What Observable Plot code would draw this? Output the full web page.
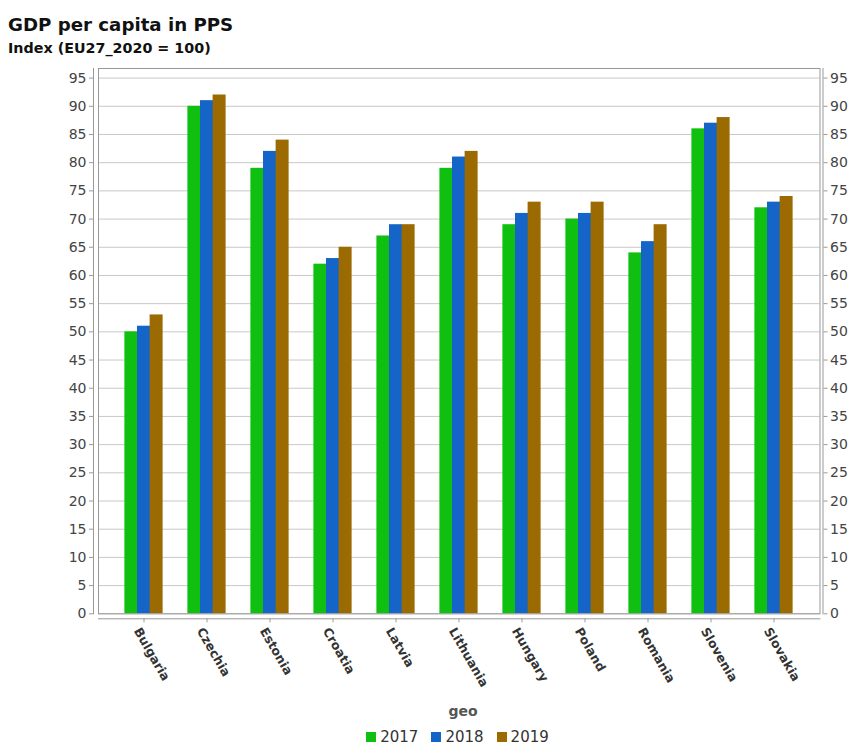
<!DOCTYPE html>
<html><head><meta charset="utf-8">
<script src="https://cdn.jsdelivr.net/npm/d3@7"></script>
<script src="https://cdn.jsdelivr.net/npm/@observablehq/plot@0.6"></script>
<style>
body{margin:0;background:#fff;font-family:"DejaVu Sans",sans-serif;overflow:hidden;}
#head{position:relative;height:58px;}
#title{position:absolute;left:8px;top:16px;font-size:18.2px;line-height:18px;font-weight:bold;color:#111;white-space:nowrap;}
#sub{position:absolute;left:8px;top:41px;font-size:14.3px;line-height:14px;font-weight:bold;color:#111;white-space:nowrap;}
#chart svg{display:block;}
#xlabel{width:855px;text-align:center;height:28px;line-height:28px;font-size:14px;font-weight:bold;color:#555;padding-left:71px;box-sizing:border-box;}
#legend{width:855px;display:flex;justify-content:center;align-items:center;height:24px;line-height:24px;font-size:15px;color:#333;padding-left:60px;box-sizing:border-box;}
#legend .item{display:inline-flex;align-items:center;margin-right:13px;}
#legend .item:last-child{margin-right:0;}
#legend .sw{width:10px;height:10px;margin-right:4px;display:inline-block;}
</style></head><body>
<div id="head"><div id="title">GDP per capita in PPS</div><div id="sub">Index (EU27_2020 = 100)</div></div>
<div id="chart"></div>
<div id="xlabel">geo</div>
<div id="legend"></div>
<script>
const geo = ["Bulgaria","Czechia","Estonia","Croatia","Latvia","Lithuania","Hungary","Poland","Romania","Slovenia","Slovakia"];
const years = ["2017","2018","2019"];
const v2017 = [50,90,79,62,67,79,69,70,64,86,72];
const v2018 = [51,91,82,63,69,81,71,71,66,87,73];
const v2019 = [53,92,84,65,69,82,73,73,69,88,74];
const colors = ["#10c010","#1565c8","#9b6a00"];
const yTicks = [0,5,10,15,20,25,30,35,40,45,50,55,60,65,70,75,80,85,90,95];

const series = [v2017, v2018, v2019];
const W = 855, H = 639, mL = 98, mR = 35.5, mT = 10, mB = 83.7;
const pInner = 0.8, pOuter = 0.62;
const step = (W - mL - mR) / (geo.length - pInner + 2 * pOuter);
const bw = step * (1 - pInner);

const rows = series.map((vals, k) => geo.map((g, i) => ({geo: g, year: years[k], value: vals[i]})));

const chart = Plot.plot({
  width: W, height: H,
  marginLeft: mL, marginRight: mR, marginTop: mT, marginBottom: mB,
  style: {fontFamily: "DejaVu Sans, sans-serif", background: "#fff", overflow: "visible"},
  x: {domain: geo, paddingInner: pInner, paddingOuter: pOuter},
  y: {domain: [0, 96.7]},
  marks: [
    Plot.gridY(yTicks, {stroke: "#c8c8c8", strokeOpacity: 1}),
    ...rows.map((data, k) => Plot.barY(data, {x: "geo", y: "value", fill: colors[k], dx: (k - 1) * bw})),
    Plot.frame({stroke: "#999"}),
    Plot.frame({anchor: "left", dx: -5, stroke: "#999"}),
    Plot.frame({anchor: "right", dx: 3, stroke: "#999"}),
    Plot.frame({anchor: "bottom", dy: 5, stroke: "#999"}),
    Plot.axisY(yTicks, {anchor: "left", dx: -5, tickSize: 4, tickPadding: 3, stroke: "#999", fontSize: 14, fill: "#444", label: null}),
    Plot.axisY(yTicks, {anchor: "right", dx: 3, tickSize: 4, tickPadding: 3, stroke: "#999", fontSize: 14, fill: "#444", label: null}),
    Plot.axisX({anchor: "bottom", dy: 5, tickSize: 4, tickFormat: () => "", stroke: "#999", label: null}),
    Plot.axisX({anchor: "bottom", dy: 7, dx: -7, tickSize: 0, tickPadding: 8, tickRotate: 60, fontSize: 12.5, fontWeight: "bold", fill: "#333", label: null})
  ]
});
document.getElementById("chart").appendChild(chart);

const leg = d3.select("#legend");
years.forEach((y, k) => {
  const it = leg.append("span").attr("class", "item");
  it.append("span").attr("class", "sw").style("background", colors[k]);
  it.append("span").text(y);
});
</script>
</body></html>
